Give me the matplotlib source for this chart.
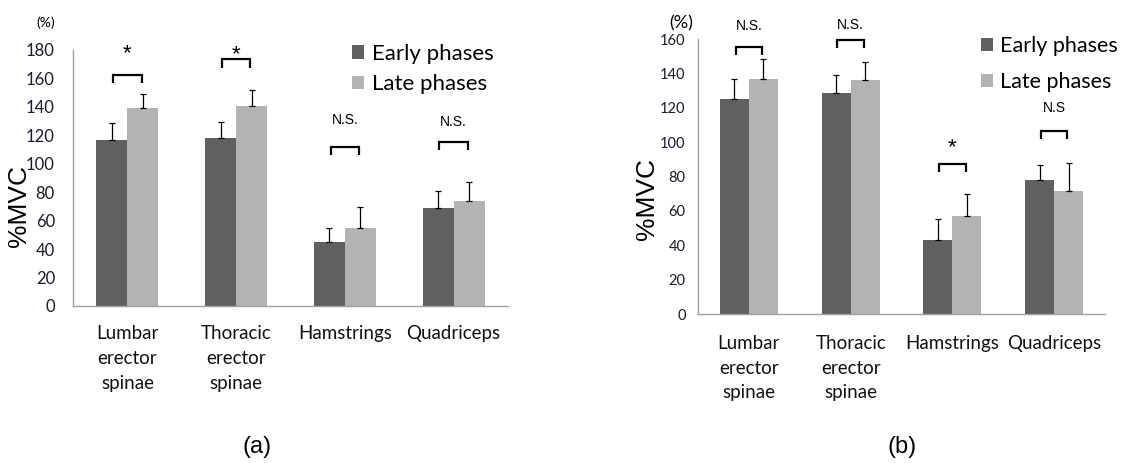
import matplotlib
matplotlib.use('Agg')
import matplotlib.pyplot as plt
import numpy as np

W, H = 1121, 463

categories = ["Lumbar\nerector\nspinae", "Thoracic\nerector\nspinae", "Hamstrings", "Quadriceps"]
series_names = ["Early phases", "Late phases"]

# Panel (a)
a_early = [116.7, 118.4, 44.8, 68.7]
a_early_sd = [12.2, 11.2, 9.8, 12.2]
a_late = [139.0, 140.6, 54.8, 73.6]
a_late_sd = [9.8, 11.5, 15.0, 13.6]
a_sig = ["*", "*", "N.S.", "N.S."]
a_bracket = [162.7, 173.5, 111.8, 115.5]
a_label_y = [181.4, 180.7, 130.8, 129.4]
a_yticks = [0, 20, 40, 60, 80, 100, 120, 140, 160, 180]

# Panel (b)
b_early = [125.0, 128.9, 43.3, 78.0]
b_early_sd = [11.9, 10.5, 11.8, 9.0]
b_late = [137.1, 136.3, 57.1, 71.8]
b_late_sd = [11.2, 10.3, 12.6, 16.3]
b_sig = ["N.S.", "N.S.", "*", "N.S"]
b_bracket = [155.7, 159.6, 87.4, 106.8]
b_label_y = [167.7, 168.3, 100.3, 119.8]
b_yticks = [0, 20, 40, 60, 80, 100, 120, 140, 160]

DARK = '#606060'
LIGHT = '#b3b3b3'
SPINE = '#a0a0a0'
CAL = ['Lato', 'DejaVu Sans']
ARI = ['Liberation Sans', 'DejaVu Sans']


def fx(px):
    return px / W


def fy(py):
    return 1 - py / H


fig = plt.figure(figsize=(W / 100, H / 100), dpi=100)
fig.patch.set_facecolor('white')


def panel(rect, early, early_sd, late, late_sd, sig, bracket, label_y, yticks,
          ymax, tick_fs, tick_pad, xpad, depth, legend_anchor, legend_spacing,
          legend_fs, star_dy):
    ax = fig.add_axes(rect)
    x = np.arange(len(categories))
    w = 0.285
    b1 = ax.bar(x - w / 2, early, w, color=DARK, label=series_names[0], zorder=2)
    b2 = ax.bar(x + w / 2, late, w, color=LIGHT, label=series_names[1], zorder=2)
    z = np.zeros(len(x))
    ax.errorbar(x - w / 2, early, yerr=[z, early_sd], fmt='none', ecolor='black',
                elinewidth=0.9, capsize=2.5, capthick=0.9, zorder=3)
    ax.errorbar(x + w / 2, late, yerr=[z, late_sd], fmt='none', ecolor='black',
                elinewidth=0.9, capsize=2.5, capthick=0.9, zorder=3)
    hw = 0.13
    for i in range(len(x)):
        ax.plot([x[i] - hw, x[i] - hw, x[i] + hw, x[i] + hw],
                [bracket[i] - depth, bracket[i], bracket[i], bracket[i] - depth],
                color='black', lw=1.6, clip_on=False, solid_capstyle='butt',
                solid_joinstyle='miter', zorder=4)
        if sig[i] == '*':
            ax.text(x[i], label_y[i] - star_dy, '*', ha='center', va='center',
                    fontsize=16, family=ARI, clip_on=False)
        else:
            ax.text(x[i], label_y[i], sig[i], ha='center', va='center', fontsize=10,
                    family=ARI, clip_on=False)
    ax.set_xlim(-0.5, len(x) - 0.5)
    ax.set_ylim(0, ymax)
    ax.set_yticks(yticks)
    ax.set_xticks(x)
    ax.set_xticklabels(categories, family=CAL, fontsize=13.5, linespacing=1.55,
                       color='#111111')
    for lab in ax.get_yticklabels():
        lab.set_family(CAL)
        lab.set_fontsize(tick_fs)
        lab.set_color('#1a1a2a')
    ax.tick_params(axis='y', length=0, pad=tick_pad)
    ax.tick_params(axis='x', length=0, pad=xpad)
    for s in ['top', 'right']:
        ax.spines[s].set_visible(False)
    for s in ['left', 'bottom']:
        ax.spines[s].set_color(SPINE)
        ax.spines[s].set_linewidth(1.0)
    ax.legend(handles=[b1, b2], loc='upper left',
              bbox_to_anchor=(fx(legend_anchor[0]), fy(legend_anchor[1])),
              bbox_transform=fig.transFigure, frameon=False,
              prop={'family': CAL, 'size': legend_fs}, handlelength=0.55,
              handleheight=0.55, handletextpad=0.35, labelspacing=legend_spacing,
              borderpad=0, borderaxespad=0)
    return ax


ax_a = panel([fx(73), fy(306), fx(508) - fx(73), fy(50) - fy(306)],
             a_early, a_early_sd, a_late, a_late_sd, a_sig, a_bracket, a_label_y,
             a_yticks, 180, 12, 13, 14, 5.9, (352, 44), 0.46, 16, 4.0)
ax_b = panel([fx(698), fy(314), fx(1105) - fx(698), fy(39.3) - fy(314)],
             b_early, b_early_sd, b_late, b_late_sd, b_sig, b_bracket, b_label_y,
             b_yticks, 160, 10.5, 9, 15, 4.9, (981, 36), 0.75, 15.5, 3.3)

fig.text(fx(19), fy(206), '%MVC', rotation=90, ha='center', va='center',
         fontsize=19, family=ARI)
fig.text(fx(647), fy(199), '%MVC', rotation=90, ha='center', va='center',
         fontsize=19, family=ARI)
fig.text(fx(46), fy(22.5), '(%)', ha='center', va='center', fontsize=10, family=CAL)
fig.text(fx(681), fy(23), '(%)', ha='center', va='center', fontsize=13, family=CAL)
fig.text(fx(257), fy(447), '(a)', ha='center', va='center', fontsize=17, family=ARI)
fig.text(fx(902), fy(447), '(b)', ha='center', va='center', fontsize=17, family=ARI)

fig.savefig('out.png', dpi=100, facecolor='white')
